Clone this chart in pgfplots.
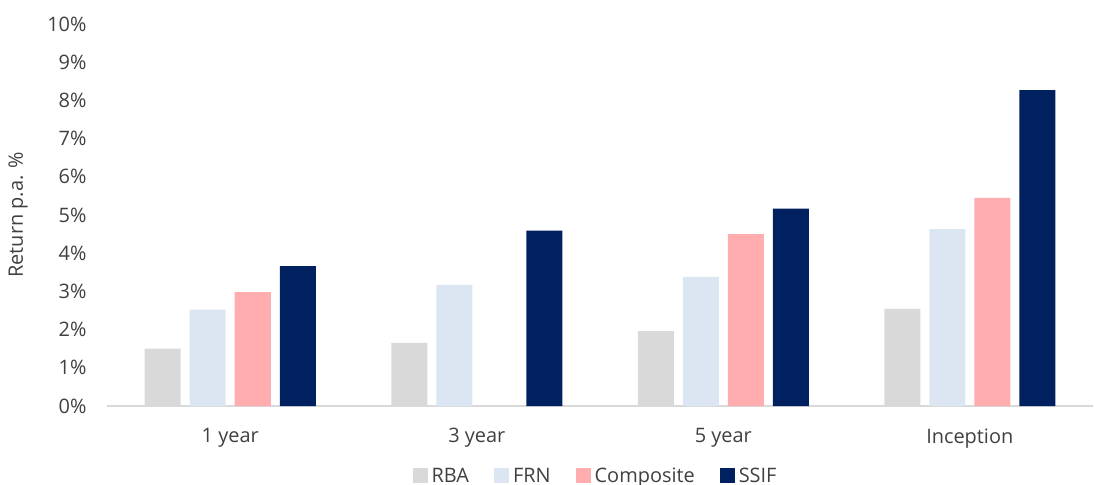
\documentclass[border=0pt]{standalone}
\usepackage{pgfplots}
\pgfplotsset{compat=1.18}
\usepackage{fontspec}
\setmainfont{Open Sans}
\definecolor{rbacol}{HTML}{D9D9D9}
\definecolor{frncol}{HTML}{DCE6F2}
\definecolor{compcol}{HTML}{FFADAF}
\definecolor{ssifcol}{HTML}{002060}
\definecolor{txt}{HTML}{404040}
\definecolor{axcol}{HTML}{D9D9D9}
\newcommand{\lblfont}{\fontsize{20}{23}\selectfont}
\begin{document}
\begin{tikzpicture}
\begin{axis}[
  at={(0,0)}, anchor=south west,
  scale only axis,
  width=986bp, height=382bp,
  xmin=-0.5, xmax=3.5,
  ymin=0, ymax=10,
  ybar=9bp, bar width=36bp,
  xtick={0,1,2,3},
  xticklabels={1 year,3 year,5 year,Inception},
  ytick={0,1,...,10},
  yticklabel={\pgfmathprintnumber{\tick}\%},
  /pgf/number format/assume math mode=true,
  axis x line*=bottom,
  axis y line*=left,
  y axis line style={draw=none},
  x axis line style={axcol, line width=1.2bp},
  major tick length=0pt,
  tick label style={font=\lblfont, text=txt},
  xticklabel style={yshift=-19bp},
  yticklabel style={xshift=-17bp},
  ylabel={Return p.a. \%},
  ylabel style={font=\lblfont, text=txt,
    at={(axis description cs:-0.0903,0.5)}, anchor=center},
  legend style={at={(0.4965,0)}, anchor=center, yshift=-70bp,
    draw=none, font=\lblfont, text=txt,
    nodes={inner xsep=4bp},
    legend columns=4, /tikz/every even column/.append style={column sep=21bp}},
  legend image code/.code={\fill[#1] (0bp,-7bp) rectangle (15bp,8bp);},
]
\addplot[fill=rbacol, draw=none] coordinates {(0,1.50) (1,1.65) (2,1.96) (3,2.54)};
\addplot[fill=frncol, draw=none] coordinates {(0,2.52) (1,3.17) (2,3.38) (3,4.63)};
\addplot[fill=compcol, draw=none] coordinates {(0,2.98) (2,4.50) (3,5.45)};
\addplot[fill=ssifcol, draw=none] coordinates {(0,3.66) (1,4.59) (2,5.17) (3,8.27)};
\legend{RBA,FRN,Composite,SSIF}
\end{axis}
\pgfresetboundingbox
\path[use as bounding box] (-107bp,-79bp) rectangle (988bp,406bp);
\end{tikzpicture}
\end{document}
